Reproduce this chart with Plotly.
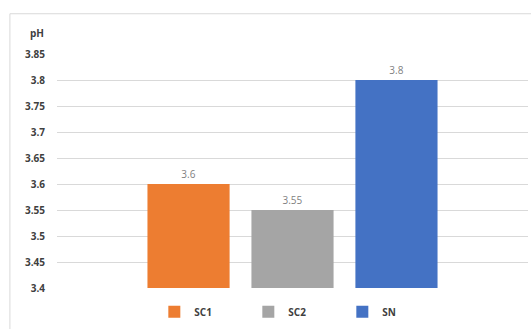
import plotly.graph_objects as go

categories = ["SC1", "SC2", "SN"]
values = [3.6, 3.55, 3.8]
colors = ["#ED7D31", "#A5A5A5", "#4472C4"]
tick_vals = [3.4, 3.45, 3.5, 3.55, 3.6, 3.65, 3.7, 3.75, 3.8, 3.85]
tick_text = ["3.4", "3.45", "3.5", "3.55", "3.6", "3.65", "3.7", "3.75", "3.8", "3.85"]

fig = go.Figure()
for c, v, col in zip(categories, values, colors):
    fig.add_trace(go.Bar(
        x=[c], y=[v], name=c, marker_color=col, marker_line_width=0,
        text=[f"{v:g}"], textposition="outside", cliponaxis=False,
        textfont=dict(family="Open Sans", size=10, color="#7F7F7F"),
    ))

fig.update_layout(
    width=531, height=329,
    margin=dict(l=57, r=3, t=54, b=37),
    paper_bgcolor="white", plot_bgcolor="white",
    barmode="overlay", bargap=0.21,
    showlegend=True,
    legend=dict(orientation="h", x=0.506, xanchor="center", y=-0.04, yanchor="top",
                font=dict(family="Open Sans", size=10, color="#404040", weight="bold"),
                entrywidth=49, itemwidth=30, traceorder="normal"),
    xaxis=dict(range=[-1.265, 3.265], showticklabels=False, showgrid=False,
               zeroline=False, showline=False, ticks=""),
    yaxis=dict(range=[3.4, 3.85], tickvals=tick_vals, ticktext=tick_text,
               showgrid=True, gridcolor="#D9D9D9", gridwidth=1, zeroline=False,
               showline=False, ticks="", ticklabelstandoff=11,
               tickfont=dict(family="Open Sans", size=10, color="#404040", weight="bold")),
    font=dict(family="Open Sans"),
)

fig.add_annotation(text="pH", xref="paper", yref="paper", x=-0.042, y=1.09,
                   xanchor="center", yanchor="middle", showarrow=False,
                   font=dict(family="Open Sans", size=10, color="#404040", weight="bold"))

# outer chart border (top and left edges)
fig.add_shape(type="line", xref="paper", yref="paper", x0=-0.1, x1=1.01, y0=1.172, y1=1.172,
              line=dict(color="#D9D9D9", width=1))
fig.add_shape(type="line", xref="paper", yref="paper", x0=-0.1, x1=-0.1, y0=1.172, y1=-0.2,
              line=dict(color="#D9D9D9", width=1))

fig.write_html("out.html")
